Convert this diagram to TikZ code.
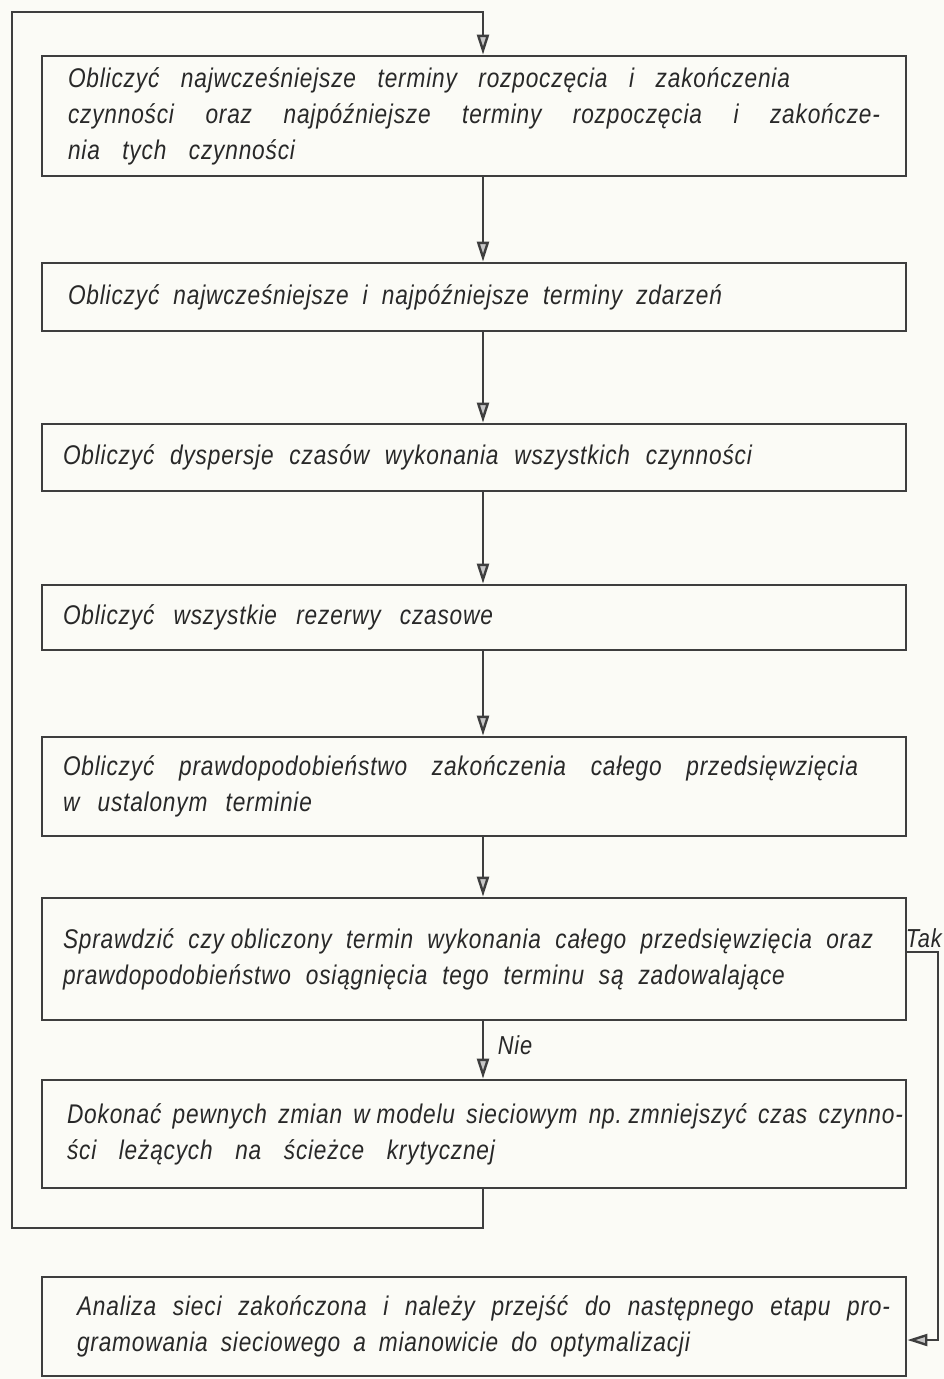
\documentclass[tikz,border=0pt]{standalone}
\usepackage{fontspec}
\setmainfont{Liberation Sans}[FakeStretch=0.84,LetterSpace=3]
\usetikzlibrary{arrows.meta}
\definecolor{ink}{RGB}{62,62,62}
\definecolor{paper}{RGB}{251,251,246}
\definecolor{lettering}{RGB}{40,40,40}
% one line of lettering spread to a given width (in pt): word gaps stretch evenly
\newcommand{\spreadline}[2]{\makebox[#1pt][s]{\spaceskip=0.3em plus 1fil\xspaceskip=0.3em plus 1fil\relax #2}}
% a narrow, fixed gap between two words
\newcommand{\tightgap}{\hspace{0.25em}}
\begin{document}
\begin{tikzpicture}[x=1pt,y=-1pt,
  box/.style={draw=ink, line width=2.8pt, align=left, inner ysep=0pt,
    font=\fontsize{27}{36}\selectfont\itshape, text=lettering},
  flow/.style={draw=ink, line width=2.4pt,
    -{Triangle[length=20pt,width=12pt,fill=gray!45]}},
  tag/.style={font=\fontsize{26}{30}\selectfont\itshape, text=lettering, inner sep=0pt}]
\fill[paper] (0,0) rectangle (944,1379);
\useasboundingbox (0,0) rectangle (944,1379);

% process boxes
\node[box, inner xsep=26pt, text width=812pt, minimum height=120pt] (b1) at (474,116) {%
  \spreadline{722}{Obliczyć najwcześniejsze terminy rozpoczęcia i zakończenia}\\
  \spreadline{812}{czynności oraz najpóźniejsze terminy rozpoczęcia i zakończe-}\\
  \spreadline{227}{nia tych czynności}};
\node[box, inner xsep=26pt, text width=812pt, minimum height=68pt] (b2) at (474,297) {%
  \spreadline{654}{Obliczyć najwcześniejsze i najpóźniejsze terminy zdarzeń}};
\node[box, inner xsep=21pt, text width=822pt, minimum height=67pt] (b3) at (474,457.5) {%
  \spreadline{689}{Obliczyć dyspersje czasów wykonania wszystkich czynności}};
\node[box, inner xsep=21pt, text width=822pt, minimum height=65pt] (b4) at (474,617.5) {%
  \spreadline{430}{Obliczyć wszystkie rezerwy czasowe}};
\node[box, inner xsep=21pt, text width=822pt, minimum height=99pt] (b5) at (474,786.5) {%
  \spreadline{795}{Obliczyć prawdopodobieństwo zakończenia całego przedsięwzięcia}\\
  \spreadline{249}{w ustalonym terminie}};
\node[box, inner xsep=21pt, text width=822pt, minimum height=122pt] (b6) at (474,959) {%
  \spreadline{810}{Sprawdzić czy\tightgap obliczony termin wykonania całego przedsięwzięcia oraz}\\
  \spreadline{722}{prawdopodobieństwo osiągnięcia tego terminu są zadowalające}};
\node[box, inner xsep=25pt, text width=814pt, minimum height=108pt] (b7) at (474,1134) {%
  \spreadline{836}{Dokonać pewnych zmian w\tightgap modelu sieciowym np.\tightgap zmniejszyć czas czynno-}\\
  \spreadline{428}{ści leżących na ścieżce krytycznej}};
\node[box, inner xsep=35pt, text width=794pt, minimum height=99pt] (b8) at (474,1326.5) {%
  \spreadline{813}{Analiza sieci zakończona i należy przejść do następnego etapu pro-}\\
  \spreadline{613}{gramowania sieciowego a mianowicie do optymalizacji}};

% branch labels
\node[tag, anchor=east] (tak) at (942,938) {Tak};
\node[tag] (nie) at (515,1045) {Nie};

% guide coordinates for the connectors
\coordinate (ax) at (483,0);
\coordinate (lb) at (12,1228);
\coordinate (lt) at (12,12);
\coordinate (tr) at (938,952);
\coordinate (br) at (938,1340);

% main sequence
\draw[flow] (b1.south -| ax) -- (b2.north -| ax);
\draw[flow] (b2.south -| ax) -- (b3.north -| ax);
\draw[flow] (b3.south -| ax) -- (b4.north -| ax);
\draw[flow] (b4.south -| ax) -- (b5.north -| ax);
\draw[flow] (b5.south -| ax) -- (b6.north -| ax);
\draw[flow] (b6.south -| ax) -- (b7.north -| ax);

% return loop after changing the model
\draw[flow] (b7.south -| ax) -- (ax |- lb) -- (lb) -- (lt) -- (ax |- lt) -- (b1.north -| ax);

% "Tak" branch to the final box
\draw[flow] (b6.east |- tr) -- (tr) -- (br) -- (b8.east |- br);
\end{tikzpicture}
\end{document}
